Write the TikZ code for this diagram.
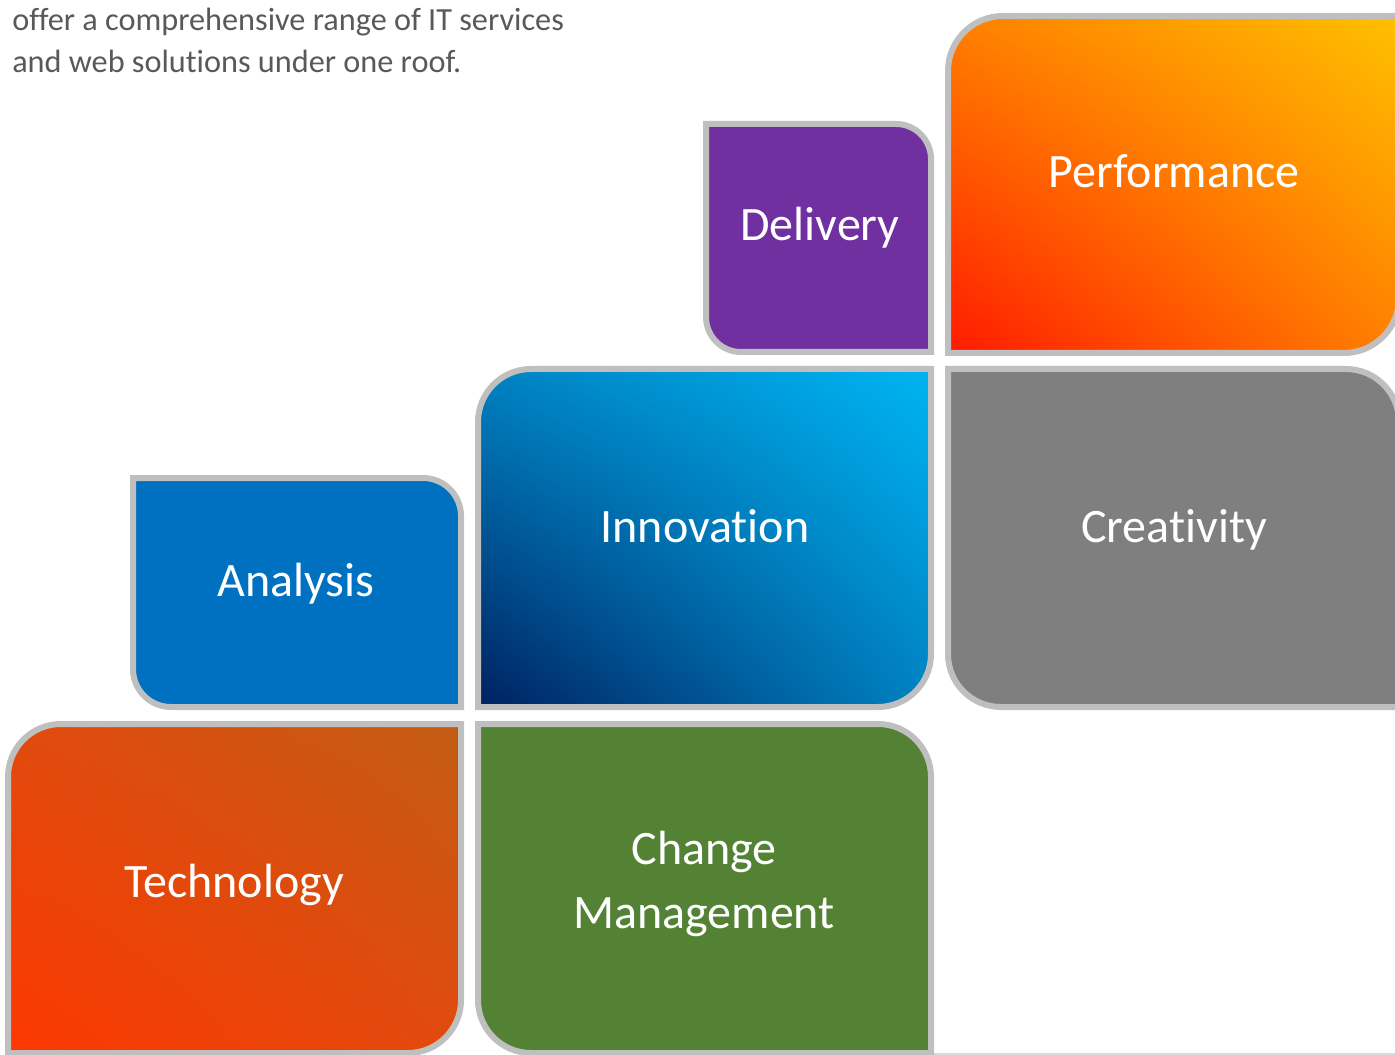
\documentclass[tikz,border=0pt]{standalone}
\usepackage{fontspec}
\setmainfont{Carlito}[Ligatures=CommonOff]
\usepackage{xcolor}
\usetikzlibrary{shadings}

\definecolor{tileedge}{HTML}{BFBFBF}
\definecolor{introgray}{HTML}{595959}
\definecolor{delivery}{HTML}{7030A0}
\definecolor{analysis}{HTML}{0070C0}
\definecolor{creativity}{HTML}{7F7F7F}
\definecolor{changegreen}{HTML}{548235}
\definecolor{perfred}{HTML}{FF1A00}
\definecolor{perfmid}{HTML}{FF8000}
\definecolor{perfyellow}{HTML}{FFC000}
\definecolor{innonavy}{HTML}{002060}
\definecolor{innomid}{HTML}{0082C2}
\definecolor{innocyan}{HTML}{00B4F2}
\definecolor{techred}{HTML}{FC3800}
\definecolor{techmid}{HTML}{E24A0E}
\definecolor{techbrown}{HTML}{C25C14}
\definecolor{pageline}{HTML}{D9D9D9}

% tile with top-right and bottom-left corners rounded: style, x1, top, x2, bottom, radius
\newcommand{\tiletrbl}[6]{%
  \draw[#1] (#2,#3) -- ({#4-#6},#3) .. controls ({#4-0.448*#6},#3) and (#4,{#3+0.448*#6}) .. (#4,{#3+#6})
    -- (#4,#5) -- ({#2+#6},#5) .. controls ({#2+0.448*#6},#5) and (#2,{#5-0.448*#6}) .. (#2,{#5-#6}) -- cycle;}
% tile with top-left and bottom-right corners rounded
\newcommand{\tiletlbr}[6]{%
  \draw[#1] (#2,{#3+#6}) .. controls (#2,{#3+0.448*#6}) and ({#2+0.448*#6},#3) .. ({#2+#6},#3) -- (#4,#3)
    -- (#4,{#5-#6}) .. controls (#4,{#5-0.448*#6}) and ({#4-0.448*#6},#5) .. ({#4-#6},#5) -- (#2,#5) -- cycle;}

\begin{document}
\begin{tikzpicture}[x=0.75pt,y=-0.75pt,
  tile/.style={draw=tileedge,line width=4.5pt},
  tiletext/.style={text=white,anchor=base,inner sep=0pt,font=\fontsize{36}{48}\selectfont},
  introtext/.style={text=introgray,anchor=base west,inner sep=0pt,font=\fontsize{24.2}{42}\selectfont}]

\useasboundingbox (0,0) rectangle (1395,1055);
\clip (0,0) rectangle (1395,1055);

% Intro text
\node[introtext] (intro1) at (12,31) {offer a comprehensive range of IT services};
\node[introtext] (intro2) at (12,73) {and web solutions under one roof.};

% Page edge
\draw[pageline,line width=1.5pt] (934,1054) -- (1395,1054);

% Top row
\tiletrbl{tile,fill=delivery}{706}{124}{931}{352}{35}
\tiletlbr{tile,lower left=perfred,upper right=perfyellow,upper left=perfmid,lower right=perfmid}{948}{16}{1399}{353}{55}

% Middle row
\tiletrbl{tile,fill=analysis}{133}{478}{461}{707}{38}
\tiletlbr{tile,lower left=innonavy,upper right=innocyan,upper left=innomid,lower right=innomid}{478}{369}{931}{707}{53}
\tiletrbl{tile,fill=creativity}{948}{369}{1399}{707}{53}

% Bottom row
\tiletlbr{tile,lower left=techred,upper right=techbrown,upper left=techmid,lower right=techmid}{8}{724}{461}{1053}{53}
\tiletrbl{tile,fill=changegreen}{478}{724}{931}{1053}{53}

% Labels
\node[tiletext] (delivery) at (820,241) {Delivery};
\node[tiletext] (performance) at (1174,188) {Performance};
\node[tiletext] (analysis) at (296,596) {Analysis};
\node[tiletext] (innovation) at (705,542) {Innovation};
\node[tiletext] (creativity) at (1174,542) {Creativity};
\node[tiletext] (technology) at (234,897) {Technology};
\node[tiletext] (change) at (704,864) {Change};
\node[tiletext] (management) at (704,928) {Management};

\end{tikzpicture}
\end{document}
